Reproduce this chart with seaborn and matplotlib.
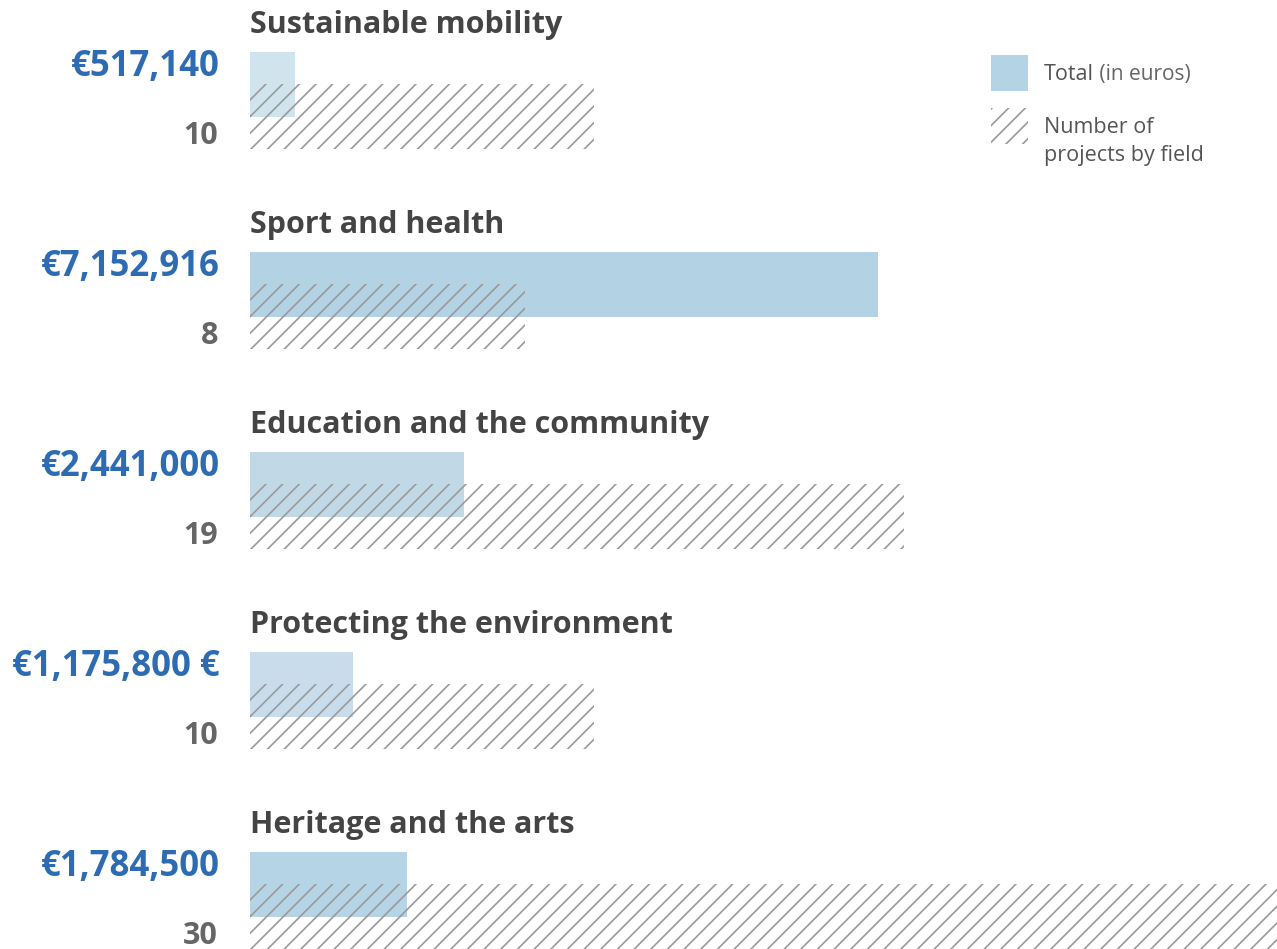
import matplotlib
matplotlib.use("Agg")
import matplotlib.pyplot as plt
import seaborn as sns
import numpy as np
from matplotlib.patches import Patch

# ---- data ----
fields = ["Sustainable mobility", "Sport and health", "Education and the community",
          "Protecting the environment", "Heritage and the arts"]
totals_eur = [517140, 7152916, 2441000, 1175800, 1784500]
total_labels = ["€517,140", "€7,152,916", "€2,441,000", "€1,175,800 €", "€1,784,500"]
projects = [10, 8, 19, 10, 30]
bar_colors = ["#d0e4ee", "#b3d2e4", "#c1d9e7", "#c9dcec", "#b5d4e5"]

sns.set_theme(style="white")
plt.rcParams["font.family"] = ["Open Sans", "DejaVu Sans"]
plt.rcParams["hatch.linewidth"] = 1.2

W, H, DPI = 1277, 949, 100
fig = plt.figure(figsize=(W / DPI, H / DPI), dpi=DPI)
left_px = 250
ax = fig.add_axes([left_px / W, 0, (W - left_px) / W, 1])
ax2 = ax.twiny()

idx = np.arange(len(fields))
y_blue = idx + 0.4225
y_hatch = idx + 0.5825

for i in idx:
    sns.barplot(x=[totals_eur[i]], y=[y_blue[i]], orient="h", native_scale=True,
                width=0.325, color=bar_colors[i], saturation=1, linewidth=0, ax=ax)

sns.barplot(x=projects, y=y_hatch, orient="h", native_scale=True, width=0.325,
            fill=False, color="#9a9a9a", linewidth=0, hatch="//", ax=ax2)

eur_max = (W - left_px) * 7152916 / 628
cnt_max = (W - left_px) / 34.4
ax.set_xlim(0, eur_max)
ax2.set_xlim(0, cnt_max)
for a in (ax, ax2):
    a.set_ylim(H / 200, 0)
    a.axis("off")

for i in idx:
    ax.text(0, i + 0.125, fields[i], ha="left", va="center", fontsize=22,
            fontweight="bold", color="#444444")
    ax.annotate(total_labels[i], xy=(0, i + 0.335), xytext=(-30 * 0.72, 0),
                textcoords="offset points", ha="right", va="center", fontsize=25,
                fontweight="bold", color="#2d6cb2")
    ax.annotate(str(projects[i]), xy=(0, i + 0.68), xytext=(-32 * 0.72, 0),
                textcoords="offset points", ha="right", va="center", fontsize=22,
                fontweight="bold", color="#666666")

handles = [Patch(facecolor="#b4d3e5", linewidth=0),
           Patch(facecolor="none", edgecolor="#9a9a9a", hatch="//", linewidth=0)]
fs = 15.5
fpx = fs / 72 * DPI
leg = fig.legend(handles, ["Total", "Number of"], loc="upper left",
                 bbox_to_anchor=(991 / W, 1 - 55 / H), frameon=False,
                 borderpad=0, borderaxespad=0, fontsize=fs,
                 handlelength=37 / fpx, handleheight=37 / fpx * 1.28,
                 handletextpad=16 / fpx, labelspacing=17 / fpx,
                 labelcolor="#555555")
fig.canvas.draw()
texts = leg.get_texts()
ax.annotate(" (in euros)", xy=(1, 0), xycoords=texts[0], ha="left", va="bottom",
            fontsize=fs - 0.5, color="#666666")
ax.annotate("projects by field", xy=(0, 0), xycoords=texts[1], xytext=(0, -5),
            textcoords="offset points", ha="left", va="top", fontsize=fs,
            color="#555555")

fig.savefig("out.png", dpi=DPI)
